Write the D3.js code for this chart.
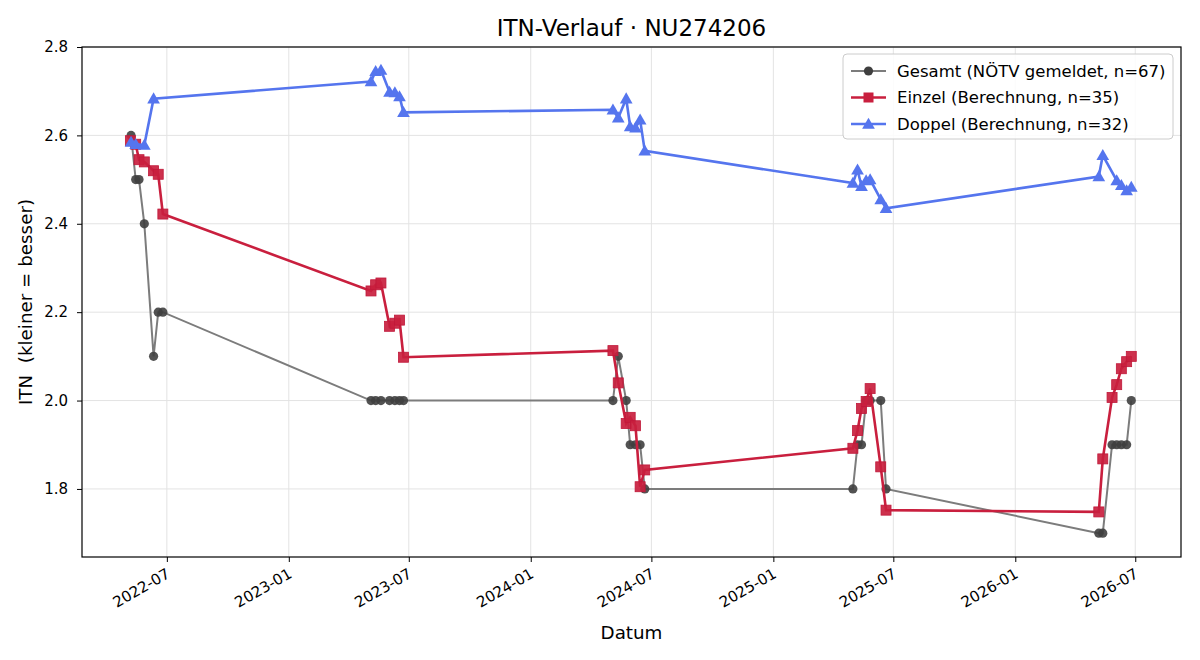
<html>
<head>
<meta charset="utf-8">
<title>ITN-Verlauf</title>
<script src="https://d3js.org/d3.v7.min.js"></script>
<style>
  body { margin: 0; background: #fff; }
  svg text { font-family: "DejaVu Sans", sans-serif; fill: #000; }
</style>
</head>
<body>
<svg id="chart" width="1200" height="660"></svg>
<script>
// ---------------------------------------------
// data
// ---------------------------------------------
var einzelDates = [
  "2022-05-07","2022-05-15","2022-05-20","2022-05-28","2022-06-11","2022-06-18","2022-06-25",
  "2023-05-05","2023-05-12","2023-05-20","2023-06-02","2023-06-10","2023-06-17","2023-06-23",
  "2024-05-04","2024-05-12","2024-05-24","2024-05-30","2024-06-07","2024-06-14","2024-06-21",
  "2025-05-01","2025-05-08","2025-05-14","2025-05-21","2025-05-27","2025-06-12","2025-06-20",
  "2026-05-07","2026-05-13","2026-05-27","2026-06-03","2026-06-10","2026-06-18","2026-06-25"];
var einzelValues = [
  2.588, 2.580, 2.545, 2.540, 2.520, 2.512, 2.422,
  2.248, 2.262, 2.266, 2.168, 2.175, 2.182, 2.098,
  2.113, 2.040, 1.948, 1.962, 1.943, 1.805, 1.843,
  1.892, 1.932, 1.982, 1.998, 2.027, 1.850, 1.752,
  1.748, 1.868, 2.007, 2.036, 2.072, 2.088, 2.100];

var doppelDates = [
  "2022-05-08","2022-05-15","2022-05-28","2022-06-11",
  "2023-05-05","2023-05-12","2023-05-20","2023-06-02","2023-06-10","2023-06-17","2023-06-23",
  "2024-05-04","2024-05-12","2024-05-24","2024-05-30","2024-06-07","2024-06-14","2024-06-21",
  "2025-05-01","2025-05-08","2025-05-14","2025-05-21","2025-05-27","2025-06-12","2025-06-20",
  "2026-05-07","2026-05-13","2026-06-03","2026-06-10","2026-06-18","2026-06-25"];
var doppelValues = [
  2.585, 2.580, 2.578, 2.683,
  2.722, 2.745, 2.748, 2.698, 2.697, 2.688, 2.652,
  2.658, 2.640, 2.683, 2.620, 2.617, 2.635, 2.565,
  2.492, 2.522, 2.485, 2.498, 2.500, 2.455, 2.435,
  2.507, 2.555, 2.498, 2.487, 2.475, 2.483];

var gesamtDates = [
  "2022-05-08","2022-05-15","2022-05-20","2022-05-28","2022-06-11","2022-06-18","2022-06-25",
  "2023-05-05","2023-05-12","2023-05-20","2023-06-02","2023-06-10","2023-06-17","2023-06-23",
  "2024-05-04","2024-05-12","2024-05-24","2024-05-30","2024-06-07","2024-06-14","2024-06-21",
  "2025-05-01","2025-05-08","2025-05-14","2025-05-21","2025-05-27","2025-06-12","2025-06-20",
  "2026-05-07","2026-05-13","2026-05-27","2026-06-03","2026-06-10","2026-06-18","2026-06-25"];
var gesamtValues = [
  2.6, 2.5, 2.5, 2.4, 2.1, 2.2, 2.2,
  2.0, 2.0, 2.0, 2.0, 2.0, 2.0, 2.0,
  2.0, 2.1, 2.0, 1.9, 1.9, 1.9, 1.8,
  1.8, 1.9, 1.9, 2.0, 2.0, 2.0, 1.8,
  1.7, 1.7, 1.9, 1.9, 1.9, 1.9, 2.0];

var legendLabels = ["Gesamt (NÖTV gemeldet, n=67)", "Einzel (Berechnung, n=35)", "Doppel (Berechnung, n=32)"];
var yTicks = [1.8, 2.0, 2.2, 2.4, 2.6, 2.8];

// ---------------------------------------------
var parse = d3.timeParse("%Y-%m-%d");
function zip(ds, vs) { return ds.map(function(d, i){ return {date: parse(d), value: vs[i]}; }); }
var gesamt = zip(gesamtDates, gesamtValues);
var einzel = zip(einzelDates, einzelValues);
var doppel = zip(doppelDates, doppelValues);

var margin = {left: 82, right: 19, top: 47, bottom: 103};
var W = 1200, H = 660;
var svg = d3.select("#chart");

var x = d3.scaleTime()
  .domain([parse("2022-02-23"), parse("2026-09-08")])
  .range([margin.left, W - margin.right]);
var y = d3.scaleLinear()
  .domain([1.646, 2.80])
  .range([H - margin.bottom, margin.top]);

var xTicks = d3.timeMonth.every(6).range(parse("2022-07-01"), parse("2026-07-02"));

// grid
var grid = svg.append("g").attr("class", "grid");
grid.selectAll("line.gx").data(xTicks).enter().append("line")
  .attr("x1", function(d){ return x(d); }).attr("x2", function(d){ return x(d); })
  .attr("y1", margin.top).attr("y2", H - margin.bottom)
  .attr("stroke", "#e3e3e3").attr("stroke-width", 1);
grid.selectAll("line.gy").data(yTicks).enter().append("line")
  .attr("y1", function(d){ return y(d); }).attr("y2", function(d){ return y(d); })
  .attr("x1", margin.left).attr("x2", W - margin.right)
  .attr("stroke", "#e3e3e3").attr("stroke-width", 1);

// axes
var xAxis = d3.axisBottom(x).tickValues(xTicks).tickFormat(d3.timeFormat("%Y-%m")).tickSizeOuter(0).tickSize(5);
var gx = svg.append("g").attr("transform", "translate(0," + (H - margin.bottom) + ")").call(xAxis);
gx.select(".domain").remove();
gx.selectAll("text")
  .style("font-size", "15px")
  .attr("text-anchor", "end")
  .attr("dy", null).attr("y", 0)
  .attr("transform", "translate(-2,10) rotate(-30)")
  .attr("dominant-baseline", "hanging");

var yAxis = d3.axisLeft(y).tickValues(yTicks).tickFormat(d3.format(".1f")).tickSizeOuter(0).tickSize(5);
var gy = svg.append("g").attr("transform", "translate(" + margin.left + ",0)").call(yAxis);
gy.select(".domain").remove();
gy.selectAll("text").style("font-size", "15px").attr("x", -14);

svg.selectAll(".tick line").attr("stroke", "#000").attr("stroke-width", 1);
svg.selectAll(".tick text").attr("fill", "#000").style("font-family", "DejaVu Sans");

// frame
svg.append("rect")
  .attr("x", margin.left).attr("y", margin.top)
  .attr("width", W - margin.left - margin.right).attr("height", H - margin.top - margin.bottom)
  .attr("fill", "none").attr("stroke", "#000").attr("stroke-width", 1.2);

// lines
var line = d3.line().x(function(d){ return x(d.date); }).y(function(d){ return y(d.value); });

var greyLine = "#7c7c7c", greyDot = "#3f3f3f";
var red = "#c91f3e", blue = "#5575ee";

svg.append("path").datum(gesamt).attr("d", line)
  .attr("fill", "none").attr("stroke", greyLine).attr("stroke-width", 2);
svg.append("g").selectAll("circle").data(gesamt).enter().append("circle")
  .attr("cx", function(d){ return x(d.date); }).attr("cy", function(d){ return y(d.value); })
  .attr("r", 4.6).attr("fill", greyDot).attr("fill-opacity", 0.9);

svg.append("path").datum(einzel).attr("d", line)
  .attr("fill", "none").attr("stroke", red).attr("stroke-width", 2.6);
var sq = 10;
svg.append("g").selectAll("rect").data(einzel).enter().append("rect")
  .attr("x", function(d){ return x(d.date) - sq / 2; }).attr("y", function(d){ return y(d.value) - sq / 2; })
  .attr("width", sq).attr("height", sq)
  .attr("fill", red).attr("fill-opacity", 0.92).attr("stroke", "#c0183a").attr("stroke-width", 0.8);

svg.append("path").datum(doppel).attr("d", line)
  .attr("fill", "none").attr("stroke", blue).attr("stroke-width", 2.6);
var tri = d3.symbol().type(d3.symbolTriangle).size(70);
svg.append("g").selectAll("path").data(doppel).enter().append("path")
  .attr("d", tri)
  .attr("transform", function(d){ return "translate(" + x(d.date) + "," + (y(d.value) + 1) + ")"; })
  .attr("fill", blue);

// title & labels
svg.append("text").attr("x", (margin.left + W - margin.right) / 2).attr("y", 36)
  .attr("text-anchor", "middle").style("font-size", "23px").text("ITN-Verlauf · NU274206");
svg.append("text").attr("x", (margin.left + W - margin.right) / 2).attr("y", 639)
  .attr("text-anchor", "middle").style("font-size", "18.3px").text("Datum");
svg.append("text")
  .attr("transform", "translate(32," + ((margin.top + H - margin.bottom) / 2) + ") rotate(-90)")
  .attr("text-anchor", "middle").style("font-size", "18.3px").text("ITN  (kleiner = besser)")
  .attr("xml:space", "preserve").style("white-space", "pre");

// legend
var lg = svg.append("g").attr("transform", "translate(843,54)");
lg.append("rect").attr("width", 330).attr("height", 85).attr("rx", 4)
  .attr("fill", "#fff").attr("fill-opacity", 0.85).attr("stroke", "#cccccc");
var items = lg.selectAll("g.item").data(legendLabels).enter().append("g")
  .attr("transform", function(d, i){ return "translate(0," + (17 + i * 26.5) + ")"; });
items.append("line").attr("x1", 8).attr("x2", 43).attr("y1", 0).attr("y2", 0)
  .attr("stroke", function(d, i){ return [greyLine, red, blue][i]; })
  .attr("stroke-width", function(d, i){ return i === 0 ? 2 : 2.6; });
items.each(function(d, i){
  var g = d3.select(this);
  if (i === 0) g.append("circle").attr("cx", 25.5).attr("cy", 0).attr("r", 4.6).attr("fill", greyDot);
  if (i === 1) g.append("rect").attr("x", 20.5).attr("y", -5).attr("width", sq).attr("height", sq).attr("fill", red);
  if (i === 2) g.append("path").attr("d", tri).attr("transform", "translate(25.5,1)").attr("fill", blue);
});
items.append("text").attr("x", 54).attr("y", 0).attr("dy", "0.35em")
  .style("font-size", "16.5px").text(function(d){ return d; });
</script>
</body>
</html>
